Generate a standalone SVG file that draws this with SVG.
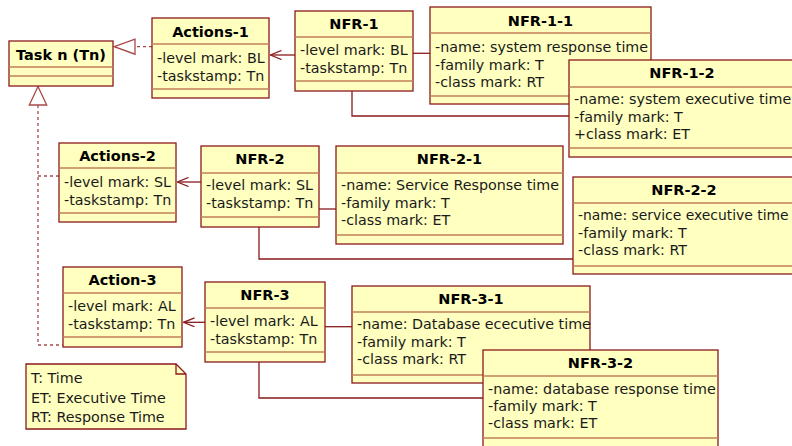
<svg xmlns="http://www.w3.org/2000/svg" width="792" height="446" viewBox="0 0 792 446">
<style>
.box{fill:#FFFFC0;stroke:#8B1A1A;stroke-width:1.3}
.sep{stroke:#C0805A;stroke-width:1.3;fill:none}
.t{font-family:"DejaVu Sans",Verdana,sans-serif;font-size:14.5px;font-weight:bold;fill:#000;text-anchor:middle}
.a{font-family:"DejaVu Sans",Verdana,sans-serif;font-size:14.3px;fill:#1a1a1a}
.ln{stroke:#8B1A1A;stroke-width:1.3;fill:none}
.dash{stroke:#A84848;stroke-width:1.3;fill:none;stroke-dasharray:3,3}
.tri{fill:#fff;stroke:#A84848;stroke-width:1.3}
</style>
<defs>
<marker id="open" viewBox="0 0 12 10" refX="11.5" refY="5" markerWidth="12" markerHeight="10" markerUnits="userSpaceOnUse" orient="auto">
<path d="M0.5,0.5 L11.5,5 L0.5,9.5" fill="none" stroke="#8B1A1A" stroke-width="1.3"/>
</marker>
</defs>
<rect width="792" height="446" fill="#fff"/>
<g id="connectors">
<line class="dash" x1="152" y1="46.7" x2="135" y2="46.7"/>
<polygon class="tri" points="114.3,46.7 135,39.2 135,54.2"/>
<polyline class="dash" points="38,105 38,345 63,345"/>
<line class="dash" x1="38" y1="176" x2="59" y2="176"/>
<polygon class="tri" points="38,86.5 29.3,105 46.7,105"/>
<line class="ln" x1="295" y1="55" x2="270.5" y2="55" marker-end="url(#open)"/>
<line class="ln" x1="413" y1="53.3" x2="430" y2="53.3"/>
<polyline class="ln" points="352,91 352,116 569,116"/>
<line class="ln" x1="201" y1="182" x2="177.5" y2="182" marker-end="url(#open)"/>
<line class="ln" x1="319" y1="209" x2="336" y2="209"/>
<polyline class="ln" points="259,227 259,259 573,259"/>
<line class="ln" x1="205" y1="322.3" x2="183.5" y2="322.3" marker-end="url(#open)"/>
<line class="ln" x1="325" y1="326.7" x2="352" y2="326.7"/>
<polyline class="ln" points="259,362 259,398 483,398"/>
</g>
<g id="task">
<rect class="box" x="9" y="41" width="104" height="45"/>
<line class="sep" x1="9" y1="67" x2="113" y2="67"/>
<line class="sep" x1="9" y1="76" x2="113" y2="76"/>
<text class="t" x="61" y="60">Task n (Tn)</text>
</g>
<g id="actions1">
<rect class="box" x="152" y="18" width="117" height="80"/>
<line class="sep" x1="152" y1="44" x2="269" y2="44"/>
<line class="sep" x1="152" y1="89" x2="269" y2="89"/>
<text class="t" x="210.5" y="37">Actions-1</text>
<text class="a" x="157" y="63">-level mark: BL</text>
<text class="a" x="157" y="80.5">-taskstamp: Tn</text>
</g>
<g id="nfr1">
<rect class="box" x="295" y="11" width="118" height="80"/>
<line class="sep" x1="295" y1="37" x2="413" y2="37"/>
<line class="sep" x1="295" y1="81" x2="413" y2="81"/>
<text class="t" x="354" y="29">NFR-1</text>
<text class="a" x="300" y="55">-level mark: BL</text>
<text class="a" x="300" y="72.5">-taskstamp: Tn</text>
</g>
<g id="nfr11">
<rect class="box" x="430" y="7" width="221" height="97"/>
<line class="sep" x1="430" y1="33" x2="651" y2="33"/>
<line class="sep" x1="430" y1="96" x2="651" y2="96"/>
<text class="t" x="540.5" y="26">NFR-1-1</text>
<text class="a" x="435" y="52">-name: system response time</text>
<text class="a" x="435" y="69.5">-family mark: T</text>
<text class="a" x="435" y="87">-class mark: RT</text>
</g>
<g id="nfr12">
<rect class="box" x="569" y="60" width="226" height="97"/>
<line class="sep" x1="569" y1="87" x2="795" y2="87"/>
<line class="sep" x1="569" y1="148" x2="795" y2="148"/>
<text class="t" x="682" y="78">NFR-1-2</text>
<text class="a" x="574" y="104">-name: system executive time</text>
<text class="a" x="574" y="121.5">-family mark: T</text>
<text class="a" x="574" y="139">+class mark: ET</text>
</g>
<g id="actions2">
<rect class="box" x="59" y="143" width="117" height="79"/>
<line class="sep" x1="59" y1="168" x2="176" y2="168"/>
<line class="sep" x1="59" y1="213" x2="176" y2="213"/>
<text class="t" x="117.5" y="161">Actions-2</text>
<text class="a" x="64" y="187">-level mark: SL</text>
<text class="a" x="64" y="204.5">-taskstamp: Tn</text>
</g>
<g id="nfr2">
<rect class="box" x="201" y="146" width="118" height="81"/>
<line class="sep" x1="201" y1="173" x2="319" y2="173"/>
<line class="sep" x1="201" y1="217" x2="319" y2="217"/>
<text class="t" x="260" y="164">NFR-2</text>
<text class="a" x="206" y="190">-level mark: SL</text>
<text class="a" x="206" y="207.5">-taskstamp: Tn</text>
</g>
<g id="nfr21">
<rect class="box" x="336" y="146" width="227" height="98"/>
<line class="sep" x1="336" y1="173" x2="563" y2="173"/>
<line class="sep" x1="336" y1="235" x2="563" y2="235"/>
<text class="t" x="449.5" y="164">NFR-2-1</text>
<text class="a" x="341" y="190">-name: Service Response time</text>
<text class="a" x="341" y="207.5">-family mark: T</text>
<text class="a" x="341" y="225">-class mark: ET</text>
</g>
<g id="nfr22">
<rect class="box" x="573" y="177" width="222" height="97"/>
<line class="sep" x1="573" y1="203" x2="795" y2="203"/>
<line class="sep" x1="573" y1="266" x2="795" y2="266"/>
<text class="t" x="684" y="195">NFR-2-2</text>
<text class="a" x="578" y="220" style="font-size:13.9px">-name: service executive time</text>
<text class="a" x="578" y="237.5">-family mark: T</text>
<text class="a" x="578" y="255">-class mark: RT</text>
</g>
<g id="action3">
<rect class="box" x="63" y="267" width="119" height="80"/>
<line class="sep" x1="63" y1="293" x2="182" y2="293"/>
<line class="sep" x1="63" y1="337" x2="182" y2="337"/>
<text class="t" x="122.5" y="285">Action-3</text>
<text class="a" x="68" y="311">-level mark: AL</text>
<text class="a" x="68" y="328.5">-taskstamp: Tn</text>
</g>
<g id="nfr3">
<rect class="box" x="205" y="282" width="120" height="80"/>
<line class="sep" x1="205" y1="308" x2="325" y2="308"/>
<line class="sep" x1="205" y1="352" x2="325" y2="352"/>
<text class="t" x="265" y="300">NFR-3</text>
<text class="a" x="210" y="326">-level mark: AL</text>
<text class="a" x="210" y="343.5">-taskstamp: Tn</text>
</g>
<g id="nfr31">
<rect class="box" x="352" y="286" width="238" height="97"/>
<line class="sep" x1="352" y1="312" x2="590" y2="312"/>
<line class="sep" x1="352" y1="375" x2="590" y2="375"/>
<text class="t" x="471" y="304">NFR-3-1</text>
<text class="a" x="357" y="329">-name: Database ececutive time</text>
<text class="a" x="357" y="346.5">-family mark: T</text>
<text class="a" x="357" y="364">-class mark: RT</text>
</g>
<g id="nfr32">
<rect class="box" x="483" y="350" width="235" height="104"/>
<line class="sep" x1="483" y1="376" x2="718" y2="376"/>
<line class="sep" x1="483" y1="438" x2="718" y2="438"/>
<text class="t" x="600.5" y="368">NFR-3-2</text>
<text class="a" x="488" y="394">-name: database response time</text>
<text class="a" x="488" y="411">-family mark: T</text>
<text class="a" x="488" y="428">-class mark: ET</text>
</g>
<g id="note">
<path class="box" d="M26,364 H176 L186,374 V429 H26 Z"/>
<path class="ln" d="M176,364 V374 H186"/>
<text class="a" x="31" y="383">T: Time</text>
<text class="a" x="31" y="402.5">ET: Executive Time</text>
<text class="a" x="31" y="422">RT: Response Time</text>
</g>
</svg>
